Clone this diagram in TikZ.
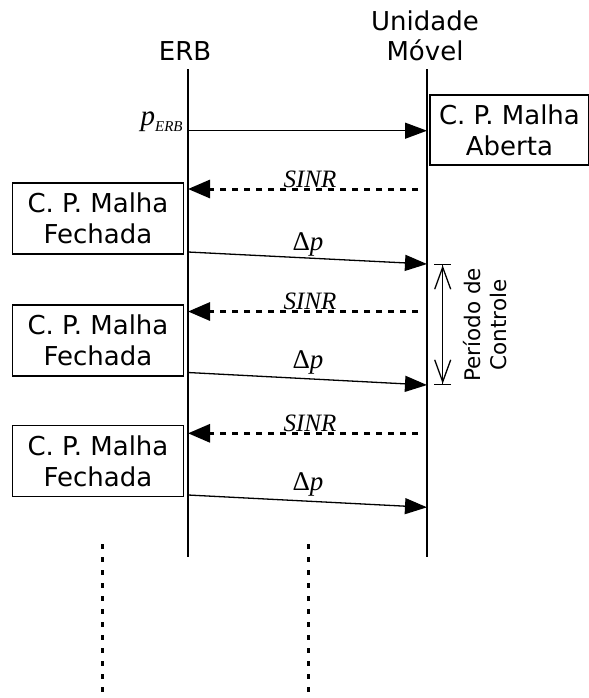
\documentclass[tikz,border=0pt]{standalone}
\usepackage{fontspec}
\setmainfont{DejaVu Sans}
\newfontfamily\tnr{Liberation Serif}
\usetikzlibrary{arrows.meta}

\begin{document}
\begin{tikzpicture}[x=0.5pt, y=-0.5pt,
  life/.style={line width=0.65pt},
  box/.style={draw, line width=0.65pt, align=center, inner sep=0pt, font=\fontsize{13}{15.5}\selectfont},
  msg/.style={line width=0.65pt, -{Triangle[length=11pt,width=8pt]}},
  ack/.style={line width=1.5pt, dash pattern=on 3pt off 3pt, -{Triangle[length=11pt,width=9pt]}},
  lbl/.style={font=\tnr\fontsize{12.5}{14}\selectfont, anchor=base, inner sep=0pt},
  more/.style={line width=1.5pt, dash pattern=on 2.5pt off 4pt}]

\useasboundingbox (0,0) rectangle (589,698);

\node (erb) at (185,60) [anchor=base, inner sep=0pt, font=\fontsize{13}{15.5}\selectfont] {ERB};
\node (unid) at (425,30) [anchor=base, inner sep=0pt, font=\fontsize{13}{15.5}\selectfont] {Unidade};
\node (movel) at (425,60) [anchor=base, inner sep=0pt, font=\fontsize{13}{15.5}\selectfont] {Móvel};

\coordinate (erbTop) at (188,69);
\coordinate (erbEnd) at (188,557);
\coordinate (umTop) at (427,69);
\coordinate (umEnd) at (427,557);
\draw [life] (erbTop) -- (erbEnd);
\draw [life] (umTop) -- (umEnd);

\node (aberta) at (509.5,130) [box, minimum width=79.5pt, minimum height=35pt] {C. P. Malha\\Aberta};
\node (fech1) at (98,218.5) [box, minimum width=85.3pt, minimum height=35.5pt] {C. P. Malha\\Fechada};
\node (fech2) at (98,340.5) [box, minimum width=85.3pt, minimum height=35.5pt] {C. P. Malha\\Fechada};
\node (fech3) at (98,461) [box, minimum width=85.3pt, minimum height=35.5pt] {C. P. Malha\\Fechada};

\coordinate (e1) at (188,130.7);
\coordinate (u1) at (427,130.7);
\coordinate (u2) at (418,189);
\coordinate (e2) at (188,189);
\coordinate (e3) at (188,252);
\coordinate (u3) at (427,264);
\coordinate (u4) at (418,311.5);
\coordinate (e4) at (188,311.5);
\coordinate (e5) at (188,372.5);
\coordinate (u5) at (427,385);
\coordinate (u6) at (418,433.3);
\coordinate (e6) at (188,433.3);
\coordinate (e7) at (188,495);
\coordinate (u7) at (427,507.3);

\draw [msg] (e1) -- (u1);
\draw [ack] (u2) -- (e2);
\draw [msg] (e3) -- (u3);
\draw [ack] (u4) -- (e4);
\draw [msg] (e5) -- (u5);
\draw [ack] (u6) -- (e6);
\draw [msg] (e7) -- (u7);

\node (perb) at (183,125) [lbl, anchor=base east, font=\tnr\fontsize{14.5}{16}\selectfont] {\itshape p\raisebox{-3.3pt}{\fontsize{7.5}{9}\selectfont ERB}};
\node (sinr1) at (310,187) [lbl] {\itshape SINR};
\node (sinr2) at (310,309) [lbl] {\itshape SINR};
\node (sinr3) at (310,431.5) [lbl] {\itshape SINR};
\node (dp1) at (308,250) [lbl, font=\tnr\fontsize{13.5}{15}\selectfont] {Δ\itshape p};
\node (dp2) at (308,368) [lbl, font=\tnr\fontsize{13.5}{15}\selectfont] {Δ\itshape p};
\node (dp3) at (308,490) [lbl, font=\tnr\fontsize{13.5}{15}\selectfont] {Δ\itshape p};

\coordinate (perA) at (442.7,264);
\coordinate (perB) at (442.7,385);
\draw [line width=0.65pt, {Bar[width=8.5pt]Straight Barb[length=11pt,width=8pt]}-{Straight Barb[length=11pt,width=8pt]Bar[width=8.5pt]}] (perA) -- (perB);
\node (periodo) at (485,325) [rotate=90, align=center, inner sep=0pt, font=\fontsize{10.75}{13.1}\selectfont] {Período de\\Controle};

\coordinate (dotA) at (102.5,544);
\coordinate (dotAend) at (102.5,700);
\coordinate (dotB) at (308.5,544);
\coordinate (dotBend) at (308.5,700);
\draw [more] (dotA) -- (dotAend);
\draw [more] (dotB) -- (dotBend);

\end{tikzpicture}
\end{document}
